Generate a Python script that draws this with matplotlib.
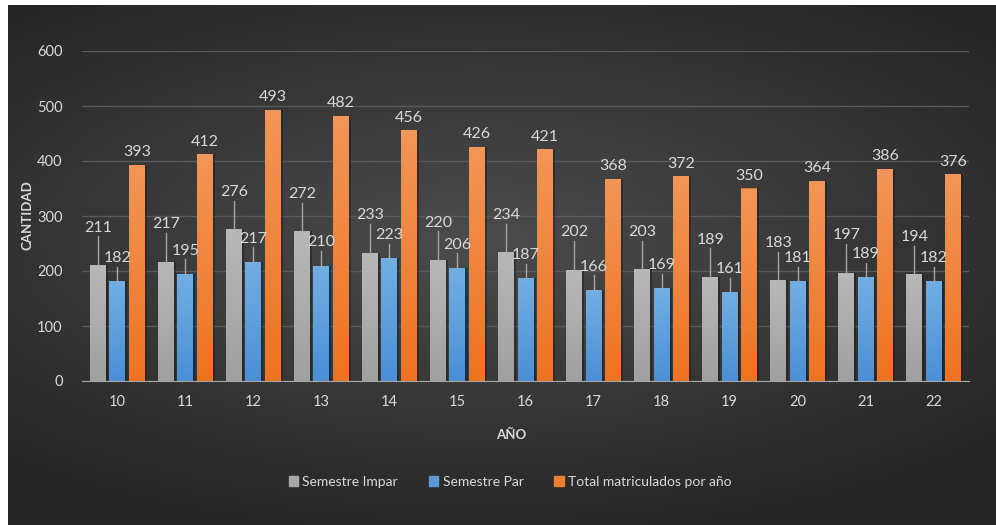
import matplotlib.pyplot as plt
import numpy as np
from matplotlib.patches import Patch

# Datos de matrícula por año
anios = ['10', '11', '12', '13', '14', '15', '16', '17', '18', '19', '20', '21', '22']
semestre_impar = [211, 217, 276, 272, 233, 220, 234, 202, 203, 189, 183, 197, 194]
semestre_par = [182, 195, 217, 210, 223, 206, 187, 166, 169, 161, 181, 189, 182]
total_anio = [393, 412, 493, 482, 456, 426, 421, 368, 372, 350, 364, 386, 376]

plt.rcParams['font.family'] = ['Lato', 'DejaVu Sans']

fig = plt.figure(figsize=(9.96, 5.25), dpi=100, facecolor='white')

# Fondo con degradado radial oscuro
fondo = fig.add_axes([8 / 996, 0, 988 / 996, 520 / 525], zorder=-10)
yy, xx = np.mgrid[-1:1:300j, -1:1:500j]
r = np.sqrt(((xx + 0.05) * 0.9) ** 2 + ((yy + 0.1) * 1.1) ** 2)
r = np.clip(r / 1.3, 0, 1)
c_centro = np.array([0x4c, 0x4c, 0x4c]) / 255
c_borde = np.array([0x25, 0x25, 0x25]) / 255
img = c_centro[None, None, :] * (1 - r[..., None]) + c_borde[None, None, :] * r[..., None]
fondo.imshow(img, aspect='auto', extent=[0, 1, 0, 1])
fondo.axis('off')

ax = fig.add_axes([82 / 996, 1 - 381 / 525, 887 / 996, 330 / 525])
ax.patch.set_alpha(0)

x = np.arange(len(anios))
ancho = 0.235
paso = 0.285


def hex_rgb(h):
    h = h.lstrip('#')
    return [int(h[i:i + 2], 16) / 255 for i in (0, 2, 4)]


def barras_degradado(pos, valores, c_arriba, c_abajo):
    barras = ax.bar(pos, valores, ancho, color=c_abajo, zorder=3)
    grad = np.linspace(0, 1, 100)[:, None]
    c1 = np.array(hex_rgb(c_arriba))
    c2 = np.array(hex_rgb(c_abajo))
    g = c1[None, None, :] * (1 - grad[..., None]) + c2[None, None, :] * grad[..., None]
    for b in barras:
        bx, by = b.get_x(), b.get_y()
        w, h = b.get_width(), b.get_height()
        # sombra a la derecha
        ax.bar(bx + w / 2 + 0.03, h, w, color='#1c1c1c', alpha=0.5, zorder=2)
        im = ax.imshow(g, extent=[bx, bx + w, by, by + h], aspect='auto', zorder=4)
        im.set_clip_path(b)
    return barras


barras_degradado(x - paso, semestre_impar, '#b8b8b8', '#a0a0a0')
barras_degradado(x, semestre_par, '#72aee3', '#4a90d6')
barras_degradado(x + paso, total_anio, '#f2965a', '#ee7320')

col_txt = '#d9d9d9'

# Etiquetas con línea guía para los semestres
for xi, v in zip(x - paso, semestre_impar):
    ax.plot([xi, xi], [v, v + 52], color='#a6a6a6', lw=1, zorder=5)
    ax.text(xi, v + 68, str(v), ha='center', va='center', fontsize=11.5, color=col_txt, zorder=6)
for xi, v in zip(x, semestre_par):
    ax.plot([xi, xi], [v, v + 26], color='#a6a6a6', lw=1, zorder=5)
    ax.text(xi, v + 42, str(v), ha='center', va='center', fontsize=11.5, color=col_txt, zorder=6)
for xi, v in zip(x + paso, total_anio):
    ax.text(xi, v + 10, str(v), ha='center', va='bottom', fontsize=11.5, color=col_txt, zorder=6)

ax.set_xlim(-0.52, len(anios) - 0.48)
ax.set_ylim(0, 600)
ax.set_yticks(range(0, 601, 100))
ax.set_xticks(x)
ax.set_xticklabels(anios)
ax.grid(axis='y', color='#595959', lw=1, zorder=0)
ax.tick_params(axis='both', length=0, colors=col_txt, labelsize=10.5)
ax.tick_params(axis='y', pad=14)
ax.tick_params(axis='x', pad=10)
for s in ['top', 'right', 'left']:
    ax.spines[s].set_visible(False)
ax.spines['bottom'].set_color('#a6a6a6')
ax.spines['bottom'].set_zorder(7)

fig.text(28 / 996, 1 - 215 / 525, 'CANTIDAD', rotation=90, ha='center', va='center',
         fontsize=9.5, fontweight='bold', color=col_txt)
fig.text(511 / 996, 1 - 435 / 525, 'AÑO', ha='center', va='center',
         fontsize=9.5, fontweight='bold', color=col_txt)

handles = [Patch(color='#a6a6a6'), Patch(color='#5b9bd5'), Patch(color='#ed7d31')]
fig.legend(handles, ['Semestre Impar', 'Semestre Par', 'Total matriculados por año'],
           loc='center', bbox_to_anchor=(510 / 996, 1 - 482 / 525), ncol=3, frameon=False,
           handlelength=0.7, handleheight=0.7, handletextpad=0.3, columnspacing=2.2,
           fontsize=10, labelcolor=col_txt)

fig.savefig('out.png', dpi=100, facecolor='white')
